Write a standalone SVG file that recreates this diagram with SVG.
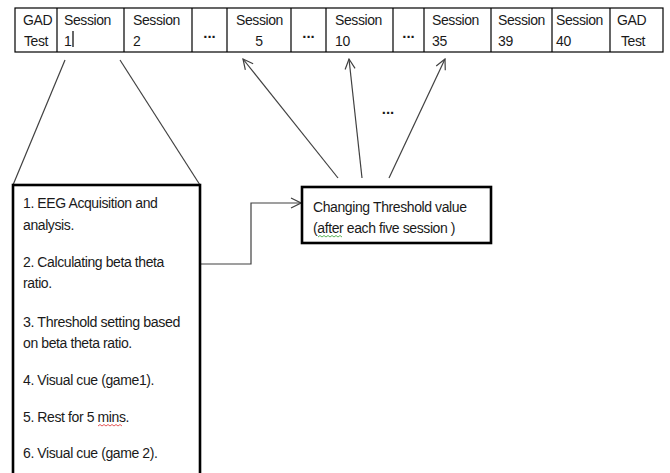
<svg xmlns="http://www.w3.org/2000/svg" width="670" height="473" viewBox="0 0 670 473">
<defs>
<style>
text{font-family:"Liberation Sans",Arial,sans-serif;font-size:14px;letter-spacing:-0.4px;fill:#1a1a1a}
.dots{font-weight:bold;font-size:15px;letter-spacing:0}
.cell{fill:none;stroke:#000;stroke-width:1.2}
.box{fill:#fff;stroke:#000;stroke-width:2.6}
.ln{fill:none;stroke:#404040;stroke-width:1.2}
</style>
<marker id="open" viewBox="0 0 12 12" refX="11" refY="6" markerWidth="12" markerHeight="12" markerUnits="userSpaceOnUse" orient="auto">
<path d="M1,1 L11,6 L1,11" fill="none" stroke="#404040" stroke-width="1.2"/>
</marker>
</defs>
<rect width="670" height="473" fill="#fff"/>

<g id="timeline">
<rect class="cell" x="15" y="8" width="648" height="44"/>
<path class="cell" d="M57,8V52M124,8V52M192,8V52M227,8V52M291,8V52M326,8V52M393,8V52M424,8V52M491,8V52M552,8V52M610,8V52"/>
<text x="23" y="25">GAD</text><text x="24" y="46">Test</text>
<text x="64" y="25">Session</text><text x="64" y="46">1</text>
<line x1="73" y1="31" x2="73" y2="47" stroke="#000" stroke-width="1.2"/>
<text x="133" y="25">Session</text><text x="133" y="46">2</text>
<text class="dots" x="209.5" y="38" text-anchor="middle">...</text>
<text x="236" y="25">Session</text><text x="259" y="46" text-anchor="middle">5</text>
<text class="dots" x="308.5" y="38" text-anchor="middle">...</text>
<text x="335" y="25">Session</text><text x="335" y="46">10</text>
<text class="dots" x="408.5" y="38" text-anchor="middle">...</text>
<text x="432" y="25">Session</text><text x="432" y="46">35</text>
<text x="498" y="25">Session</text><text x="498" y="46">39</text>
<text x="556" y="25">Session</text><text x="556" y="46">40</text>
<text x="617" y="25">GAD</text><text x="621" y="46">Test</text>
</g>

<g id="connectors">
<line class="ln" x1="65" y1="60" x2="13" y2="185"/>
<line class="ln" x1="120" y1="60" x2="200" y2="185"/>
<path class="ln" d="M201,264 H251 V203 H301" marker-end="url(#open)"/>
<line class="ln" x1="338" y1="178" x2="243" y2="59" marker-end="url(#open)"/>
<line class="ln" x1="362" y1="178" x2="349" y2="59" marker-end="url(#open)"/>
<line class="ln" x1="389" y1="178" x2="445" y2="59" marker-end="url(#open)"/>
<text class="dots" x="388" y="114" text-anchor="middle">...</text>
</g>

<g id="steps">
<rect class="box" x="13" y="185" width="187" height="300"/>
<text x="23" y="208">1. EEG Acquisition and</text>
<text x="23" y="230">analysis.</text>
<text x="23" y="267">2. Calculating beta theta</text>
<text x="23" y="288">ratio.</text>
<text x="23" y="327" textLength="157" lengthAdjust="spacingAndGlyphs">3. Threshold setting based</text>
<text x="23" y="348">on beta theta ratio.</text>
<text x="23" y="385">4. Visual cue (game1).</text>
<text x="23" y="422">5. Rest for 5 mins.</text>
<path d="M98,426 l2,-1.5 l2,1.5 l2,-1.5 l2,1.5 l2,-1.5 l2,1.5 l2,-1.5 l2,1.5 l2,-1.5 l2,1.5 l2,-1.5 l2,1.5" fill="none" stroke="#e03030" stroke-width="0.8"/>
<text x="23" y="458">6. Visual cue (game 2).</text>
</g>

<g id="threshold">
<rect class="box" x="302" y="187" width="189" height="56"/>
<text x="313" y="212">Changing Threshold value</text>
<text x="313" y="233">(after each five session )</text>
<path d="M318,237 l2,-1.5 l2,1.5 l2,-1.5 l2,1.5 l2,-1.5 l2,1.5 l2,-1.5 l2,1.5 l2,-1.5 l2,1.5 l2,-1.5 l2,1.5" fill="none" stroke="#30a030" stroke-width="0.8"/>
</g>
</svg>
